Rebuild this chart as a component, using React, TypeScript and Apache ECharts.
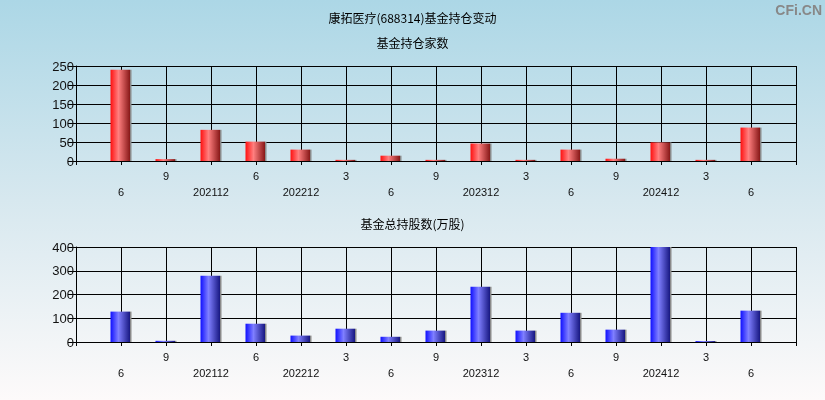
import React, { useEffect, useRef } from "react";
import * as echarts from "echarts";

const quarters = [
  "2021-06", "2021-09", "2021-12", "2022-06", "2022-12", "2023-03", "2023-06", "2023-09",
  "2023-12", "2024-03", "2024-06", "2024-09", "2024-12", "2025-03", "2025-06",
];
const tickLabels = ["6", "9", "202112", "6", "202212", "3", "6", "9", "202312", "3", "6", "9", "202412", "3", "6"];
const fundCounts = [240, 5, 82, 51, 30, 3, 14, 3, 46, 3, 30, 6, 49, 3, 88];
const fundShares = [128, 5, 279, 77, 27, 56, 22, 48, 233, 48, 123, 52, 400, 4, 132];

const mainTitle = "康拓医疗(688314)基金持仓变动";
const title1 = "基金持仓家数";
const title2 = "基金总持股数(万股)";

const FONT = "Arial, 'Liberation Sans', 'Noto Sans CJK SC', sans-serif";
const CJK = "'Noto Sans CJK SC', 'Liberation Sans', sans-serif";

function barGradient(c0: string, c1: string, c2: string) {
  return new echarts.graphic.LinearGradient(0, 0, 1, 0, [
    { offset: 0, color: c0 },
    { offset: 0.38, color: c1 },
    { offset: 0.94, color: c2 },
    { offset: 0.95, color: "#8a8a8a" },
    { offset: 1, color: "#8a8a8a" },
  ]);
}

export default function App() {
  const ref = useRef<HTMLDivElement>(null);
  useEffect(() => {
    if (!ref.current) return;
    const chart = echarts.init(ref.current, null, { renderer: "svg" });
    const n = quarters.length;
    const xFormatter = (v: number) => {
      const i = Math.round(v) - 1;
      if (i < 0 || i >= tickLabels.length) return "";
      return i % 2 === 0 ? "\n" + tickLabels[i] : tickLabels[i];
    };
    const makeX = (gridIndex: number) => ({
      type: "value",
      gridIndex,
      min: 0,
      max: n + 1,
      interval: 1,
      axisLine: { show: true, lineStyle: { color: "#000", width: 1 } },
      axisTick: { show: true, length: 4, lineStyle: { color: "#000" } },
      axisLabel: {
        formatter: xFormatter,
        color: "#111",
        fontSize: 11,
        fontFamily: FONT,
        lineHeight: 16,
        margin: 7,
        showMinLabel: true,
        showMaxLabel: true,
      },
      splitLine: { show: true, lineStyle: { color: "#000", width: 1 } },
    });
    const makeY = (gridIndex: number, max: number, interval: number) => ({
      type: "value",
      gridIndex,
      min: 0,
      max,
      interval,
      axisLine: { show: true, lineStyle: { color: "#000", width: 1 } },
      axisTick: { show: true, length: 8, lineStyle: { color: "#000" } },
      axisLabel: { color: "#111", fontSize: 13, fontFamily: FONT, margin: 2 },
      splitLine: { show: true, lineStyle: { color: "#000", width: 1 } },
    });
    chart.setOption({
      animation: false,
      graphic: [
        {
          type: "rect",
          left: 0,
          top: 0,
          z: -10,
          shape: { width: 825, height: 400 },
          style: {
            fill: new echarts.graphic.LinearGradient(0, 0, 0, 1, [
              { offset: 0, color: "#acd7e6" },
              { offset: 0.5, color: "#d7e8ef" },
              { offset: 1, color: "#fdfafa" },
            ]),
          },
          silent: true,
        },
        {
          type: "text",
          right: 3,
          top: 3,
          style: {
            text: "CFi.CN",
            fill: "#888888",
            font: "bold 14px 'Liberation Sans', Arial, sans-serif",
          },
        },
      ],
      title: [
        {
          text: mainTitle,
          left: "center",
          top: 11,
          padding: 0,
          textStyle: { fontSize: 12, fontWeight: "normal", color: "#000", fontFamily: CJK },
        },
        {
          text: title1,
          left: "center",
          top: 36,
          padding: 0,
          textStyle: { fontSize: 12, fontWeight: "normal", color: "#000", fontFamily: CJK },
        },
        {
          text: title2,
          left: "center",
          top: 217,
          padding: 0,
          textStyle: { fontSize: 12, fontWeight: "normal", color: "#000", fontFamily: CJK },
        },
      ],
      grid: [
        { left: 76, top: 66, width: 720, height: 95 },
        { left: 76, top: 247, width: 720, height: 95 },
      ],
      xAxis: [makeX(0), makeX(1)],
      yAxis: [makeY(0, 250, 50), makeY(1, 400, 100)],
      series: [
        {
          type: "bar",
          xAxisIndex: 0,
          yAxisIndex: 0,
          barWidth: 21,
          data: fundCounts.map((v, i) => [i + 1, v]),
          itemStyle: { color: barGradient("#ff1010", "#ff7f7f", "#851515") },
        },
        {
          type: "bar",
          xAxisIndex: 1,
          yAxisIndex: 1,
          barWidth: 21,
          data: fundShares.map((v, i) => [i + 1, v]),
          itemStyle: { color: barGradient("#1010ff", "#7f7fff", "#15157f") },
        },
      ],
    });
    return () => chart.dispose();
  }, []);
  return (
    <div
      ref={ref}
      style={{ position: "fixed", left: 0, top: 0, width: 825, height: 400 }}
    />
  );
}
